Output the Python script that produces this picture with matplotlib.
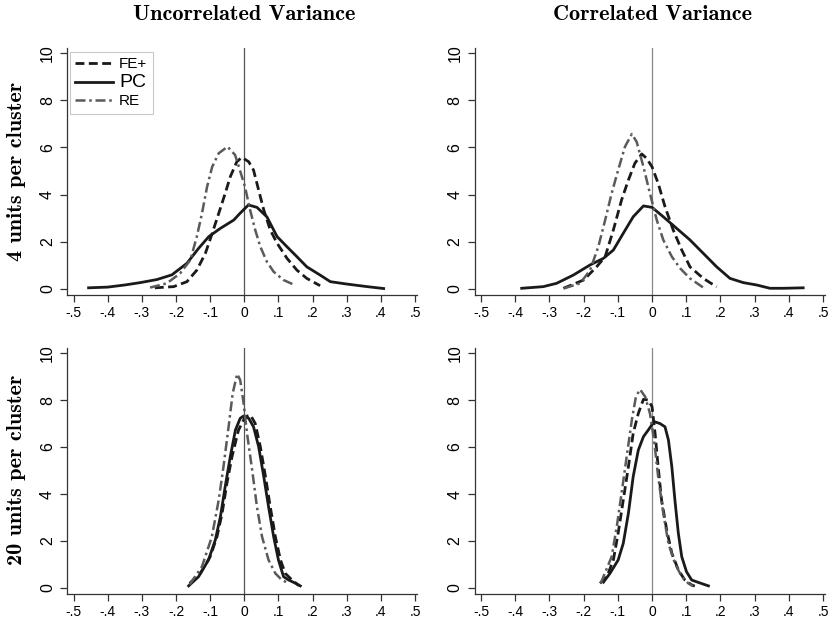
import matplotlib
matplotlib.use('Agg')
import matplotlib.pyplot as plt

plt.rcParams['font.family'] = ['Liberation Sans', 'DejaVu Sans']

# --- данные: оценки плотности ---
# верхний левый: Uncorrelated Variance, 4 units per cluster
ul_pc_x = [-0.456, -0.40, -0.35, -0.305, -0.256, -0.212, -0.168, -0.134, -0.104, -0.07, -0.031, -0.013,
           0.012, 0.037, 0.066, 0.096, 0.125, 0.154, 0.183, 0.222, 0.252, 0.30, 0.36, 0.408]
ul_pc_y = [0.05, 0.08, 0.17, 0.27, 0.40, 0.60, 1.09, 1.72, 2.22, 2.57, 2.92, 3.2,
           3.56, 3.46, 3.06, 2.22, 1.79, 1.37, 0.94, 0.59, 0.31, 0.21, 0.10, 0.02]
ul_fe_x = [-0.262, -0.207, -0.168, -0.139, -0.114, -0.094, -0.075, -0.056, -0.041, -0.022, -0.007,
           0.013, 0.027, 0.042, 0.057, 0.076, 0.096, 0.125, 0.154, 0.183, 0.222]
ul_fe_y = [0.05, 0.10, 0.31, 0.80, 1.51, 2.36, 3.20, 4.05, 4.76, 5.39, 5.58,
           5.39, 5.04, 4.19, 3.35, 2.50, 1.94, 1.30, 0.80, 0.45, 0.14]
ul_re_x = [-0.276, -0.227, -0.188, -0.158, -0.139, -0.124, -0.109, -0.094, -0.075, -0.049, -0.027,
           -0.013, 0.002, 0.017, 0.032, 0.047, 0.066, 0.086, 0.115, 0.144]
ul_re_y = [0.06, 0.24, 0.66, 1.23, 2.22, 3.20, 4.33, 5.18, 5.75, 6.03, 5.68,
           5.04, 4.33, 3.35, 2.50, 1.79, 1.16, 0.73, 0.38, 0.19]

# верхний правый: Correlated Variance, 4 units per cluster
ur_pc_x = [-0.381, -0.318, -0.279, -0.23, -0.181, -0.142, -0.113, -0.084, -0.055, -0.025, 0.0,
           0.033, 0.072, 0.111, 0.15, 0.189, 0.228, 0.267, 0.306, 0.345, 0.384, 0.442]
ur_pc_y = [0.03, 0.10, 0.24, 0.59, 1.02, 1.30, 1.65, 2.36, 3.06, 3.52, 3.46,
           3.06, 2.57, 2.08, 1.51, 0.94, 0.45, 0.27, 0.17, 0.03, 0.03, 0.05]
ur_fe_x = [-0.259, -0.2, -0.162, -0.137, -0.113, -0.089, -0.069, -0.05, -0.03, -0.016, 0.0,
           0.018, 0.038, 0.062, 0.087, 0.111, 0.15, 0.189]
ur_fe_y = [0.03, 0.38, 0.94, 1.37, 2.50, 3.77, 4.62, 5.33, 5.72, 5.54, 5.18,
           4.48, 3.49, 2.50, 1.65, 0.94, 0.45, 0.09]
ur_re_x = [-0.257, -0.21, -0.181, -0.157, -0.137, -0.118, -0.099, -0.079, -0.059, -0.045, -0.025,
           -0.006, 0.014, 0.033, 0.058, 0.082, 0.111, 0.15]
ur_re_y = [0.03, 0.24, 0.80, 1.79, 2.92, 4.05, 5.04, 6.03, 6.57, 6.24, 5.18,
           4.05, 2.92, 2.08, 1.37, 0.88, 0.45, 0.06]

# нижний левый: Uncorrelated Variance, 20 units per cluster
ll_pc_x = [-0.163, -0.134, -0.105, -0.085, -0.07, -0.056, -0.041, -0.026, -0.012, -0.002, 0.013,
           0.027, 0.042, 0.057, 0.071, 0.086, 0.10, 0.115, 0.13, 0.15, 0.164]
ll_pc_y = [0.09, 0.48, 1.19, 2.04, 3.03, 4.31, 5.59, 6.72, 7.22, 7.32, 7.22,
           6.86, 6.01, 4.74, 3.46, 2.18, 1.19, 0.48, 0.34, 0.20, 0.09]
ll_fe_x = [-0.16, -0.129, -0.10, -0.08, -0.065, -0.051, -0.036, -0.017, 0.003, 0.018, 0.032,
           0.047, 0.062, 0.076, 0.091, 0.106, 0.12, 0.14, 0.16]
ll_fe_y = [0.20, 0.62, 1.33, 2.18, 3.18, 4.45, 5.59, 6.72, 7.29, 7.36, 7.0,
           6.01, 4.74, 3.46, 2.18, 1.19, 0.62, 0.34, 0.10]
ll_re_x = [-0.16, -0.124, -0.095, -0.075, -0.061, -0.046, -0.034, -0.021, -0.012, -0.002, 0.008,
           0.023, 0.037, 0.052, 0.071, 0.091, 0.11, 0.13]
ll_re_y = [0.15, 0.91, 2.18, 3.74, 5.16, 6.86, 8.28, 9.11, 8.85, 7.86, 6.58,
           5.02, 3.46, 2.18, 1.19, 0.62, 0.34, 0.20]

# нижний правый: Correlated Variance, 20 units per cluster
lr_pc_x = [-0.142, -0.123, -0.099, -0.084, -0.069, -0.055, -0.04, -0.025, -0.011, 0.006, 0.023,
           0.038, 0.048, 0.058, 0.067, 0.077, 0.087, 0.101, 0.116, 0.135, 0.165]
lr_pc_y = [0.25, 0.62, 1.19, 1.90, 3.18, 4.74, 5.87, 6.44, 6.72, 7.08, 7.0,
           6.86, 6.30, 5.16, 3.74, 2.33, 1.33, 0.69, 0.34, 0.24, 0.09]
lr_fe_x = [-0.152, -0.132, -0.113, -0.099, -0.084, -0.069, -0.055, -0.04, -0.025, -0.011, 0.0,
           0.009, 0.018, 0.028, 0.043, 0.058, 0.077, 0.096, 0.116, 0.125]
lr_fe_y = [0.20, 0.48, 1.19, 2.33, 3.74, 5.16, 6.58, 7.43, 8.03, 8.0, 7.72,
           6.58, 5.16, 3.74, 2.47, 1.48, 0.77, 0.34, 0.13, 0.08]
lr_re_x = [-0.15, -0.118, -0.103, -0.089, -0.074, -0.059, -0.047, -0.035, -0.02, -0.006, 0.006,
           0.018, 0.033, 0.048, 0.067, 0.087, 0.106, 0.12]
lr_re_y = [0.20, 1.33, 2.61, 4.03, 5.59, 7.15, 8.14, 8.45, 8.14, 7.43, 6.30,
           4.74, 3.18, 1.90, 1.05, 0.48, 0.20, 0.08]

col_titles = ['Uncorrelated Variance', 'Correlated Variance']
row_titles = ['4 units per cluster', '20 units per cluster']
x_ticks = [-0.5, -0.4, -0.3, -0.2, -0.1, 0, 0.1, 0.2, 0.3, 0.4, 0.5]
x_tick_labels = ['-.5', '-.4', '-.3', '-.2', '-.1', '0', '.1', '.2', '.3', '.4', '.5']
y_ticks = [0, 2, 4, 6, 8, 10]

panels = [
    (ul_fe_x, ul_fe_y, ul_pc_x, ul_pc_y, ul_re_x, ul_re_y),
    (ur_fe_x, ur_fe_y, ur_pc_x, ur_pc_y, ur_re_x, ur_re_y),
    (ll_fe_x, ll_fe_y, ll_pc_x, ll_pc_y, ll_re_x, ll_re_y),
    (lr_fe_x, lr_fe_y, lr_pc_x, lr_pc_y, lr_re_x, lr_re_y),
]

W, H = 830, 624
fig = plt.figure(figsize=(W / 100, H / 100), dpi=100)

xmin, xmax = -0.518, 0.506
ymin, ymax = -0.26, 10.2
# положения нулей осей в пикселях (колонки / строки)
x0_px = [244.3, 652.0]
x_scale = [341.5, 342.0]
y0_px = [289.0, 588.0]
y_scale = [23.6, 23.5]

axes = []
for i, data in enumerate(panels):
    r, c = divmod(i, 2)
    left = x0_px[c] + xmin * x_scale[c]
    width = (xmax - xmin) * x_scale[c]
    bottom = y0_px[r] - ymin * y_scale[r]
    height = (ymax - ymin) * y_scale[r]
    ax = fig.add_axes([left / W, 1 - bottom / H, width / W, height / H])
    fe_x, fe_y, pc_x, pc_y, re_x, re_y = data

    ax.axvline(0, color='#555555' if c == 0 else '#888888', lw=0.9, zorder=1)
    ax.plot(fe_x, fe_y, color='#1a1a1a', lw=2.0, ls=(0, (3.2, 1.6)), label='FE+')
    ax.plot(pc_x, pc_y, color='#1a1a1a', lw=2.0, ls='-', label='PC')
    ax.plot(re_x, re_y, color='#5a5a5a', lw=1.8, ls=(0, (4, 1.5, 1, 1.5)), label='RE')

    ax.set_xlim(xmin, xmax)
    ax.set_ylim(ymin, ymax)
    ax.set_xticks(x_ticks)
    ax.set_xticklabels(x_tick_labels)
    ax.set_yticks(y_ticks)
    ax.set_yticklabels([str(v) for v in y_ticks], rotation=90, va='center')
    ax.tick_params(axis='x', length=5, width=0.9, color='#333333', labelsize=10, pad=3)
    ax.tick_params(axis='y', length=5, width=0.9, color='#333333', labelsize=11.5, pad=4)
    for side in ['top', 'right']:
        ax.spines[side].set_visible(False)
    for side in ['left', 'bottom']:
        ax.spines[side].set_color('#333333')
        ax.spines[side].set_linewidth(0.9)
    axes.append(ax)

leg = axes[0].legend(loc='upper left', bbox_to_anchor=(0.006, 0.985), frameon=True, fancybox=False,
                     edgecolor='#bbbbbb', fontsize=11, handlelength=2.5, handletextpad=0.4,
                     borderpad=0.35, labelspacing=0.2, borderaxespad=0)
leg.get_frame().set_linewidth(0.8)
leg.get_texts()[1].set_fontsize(14)

for c, t in enumerate(col_titles):
    fig.text(x0_px[c] / W, 1 - 15 / H, t, ha='center', va='center', fontsize=16,
             family='cmb10')
for r, t in enumerate(row_titles):
    fig.text(16 / W, 1 - [171, 470][r] / H, t, ha='center', va='center', rotation=90,
             fontsize=16, family='cmb10')

fig.savefig('out.png', dpi=100)
